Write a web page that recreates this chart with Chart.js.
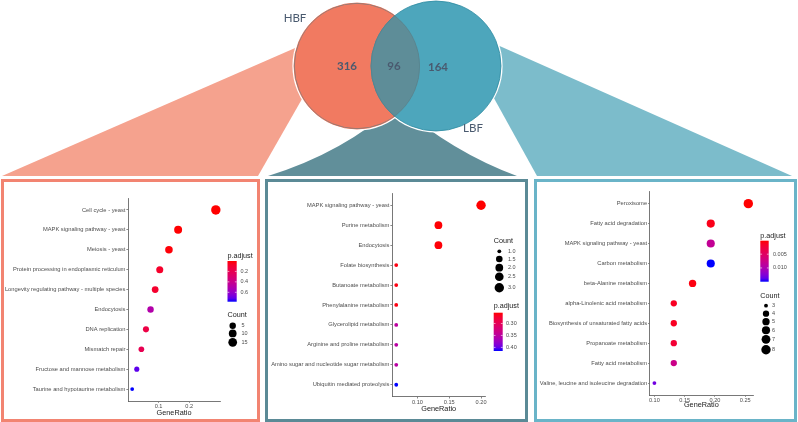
<!DOCTYPE html>
<html lang="en">
<head>
<meta charset="UTF-8">
<title>HBF / LBF enrichment</title>
<script src="https://cdn.jsdelivr.net/npm/chart.js"></script>
<style>
  html, body { margin: 0; padding: 0; background: #fff; }
  body { width: 798px; height: 422px; position: relative; overflow: hidden; }
  canvas { position: absolute; left: 0; top: 0; }
  .box { position: absolute; box-sizing: border-box; border: 3px solid; background: #fff; }
</style>
</head>
<body>
<canvas id="venn" width="798" height="422"></canvas>
<div class="box" style="left:1px;top:179px;width:259px;height:243px;border-color:#f28471"></div>
<div class="box" style="left:265px;top:179px;width:263px;height:243px;border-color:#5b8a96"></div>
<div class="box" style="left:534px;top:179px;width:263px;height:243px;border-color:#6ab4c8"></div>
<canvas id="chartHBF" width="798" height="422"></canvas>
<canvas id="chartShared" width="798" height="422"></canvas>
<canvas id="chartLBF" width="798" height="422"></canvas>

<script>
// ---- data ----
const vennNames = ['HBF', 'LBF'];
const vennCounts = [316, 96, 164];   // HBF only, shared, LBF only

const hbfTerms = ['Cell cycle - yeast', 'MAPK signaling pathway - yeast', 'Meiosis - yeast',
  'Protein processing in endoplasmic reticulum', 'Longevity regulating pathway - multiple species',
  'Endocytosis', 'DNA replication', 'Mismatch repair', 'Fructose and mannose metabolism',
  'Taurine and hypotaurine metabolism'];
const hbfRatio = [0.287, 0.164, 0.134, 0.104, 0.089, 0.074, 0.059, 0.044, 0.029, 0.014];
const hbfCount = [19, 11, 9, 7, 6, 5, 4, 3, 2, 1];
const hbfPadj = [0.0005, 0.002, 0.01, 0.08, 0.09, 0.5, 0.16, 0.2, 0.72, 0.78];
const hbfTicks = [0.1, 0.2];
const hbfPadjTicks = [0.2, 0.4, 0.6];
const hbfCountTicks = [5, 10, 15];

const sharedTerms = ['MAPK signaling pathway - yeast', 'Purine metabolism', 'Endocytosis',
  'Folate biosynthesis', 'Butanoate metabolism', 'Phenylalanine metabolism',
  'Glycerolipid metabolism', 'Arginine and proline metabolism',
  'Amino sugar and nucleotide sugar metabolism', 'Ubiquitin mediated proteolysis'];
const sharedRatio = [0.200, 0.133, 0.133, 0.0667, 0.0667, 0.0667, 0.0667, 0.0667, 0.0667, 0.0667];
const sharedCount = [3, 2, 2, 1, 1, 1, 1, 1, 1, 1];
const sharedPadj = [0.255, 0.256, 0.257, 0.26, 0.26, 0.26, 0.35, 0.352, 0.352, 0.415];
const sharedTicks = [0.10, 0.15, 0.20];
const sharedPadjTicks = [0.30, 0.35, 0.40];
const sharedCountTicks = [1.0, 1.5, 2.0, 2.5, 3.0];

const lbfTerms = ['Peroxisome', 'Fatty acid degradation', 'MAPK signaling pathway - yeast',
  'Carbon metabolism', 'beta-Alanine metabolism', 'alpha-Linolenic acid metabolism',
  'Biosynthesis of unsaturated fatty acids', 'Propanoate metabolism', 'Fatty acid metabolism',
  'Valine, leucine and isoleucine degradation'];
const lbfRatio = [0.255, 0.193, 0.193, 0.193, 0.163, 0.132, 0.132, 0.132, 0.132, 0.100];
const lbfCount = [8, 6, 6, 6, 5, 4, 4, 4, 4, 3];
const lbfPadj = [0.0001, 0.0008, 0.0083, 0.015, 0.0005, 0.0012, 0.0012, 0.0022, 0.0075, 0.0132];
const lbfTicks = [0.10, 0.15, 0.20, 0.25];
const lbfPadjTicks = [0.005, 0.010];
const lbfCountTicks = [3, 4, 5, 6, 7, 8];

// ---- helpers ----
const SANS = '"Liberation Sans", Arial, sans-serif';
Chart.defaults.font.family = SANS;
const R_MIN = 1.9, R_MAX = 4.7;

function hexToLab(hex) {
  const n = parseInt(hex.slice(1), 16);
  const c = [(n >> 16) & 255, (n >> 8) & 255, n & 255].map(v => {
    v /= 255;
    return v <= 0.04045 ? v / 12.92 : Math.pow((v + 0.055) / 1.055, 2.4);
  });
  const x = (c[0] * 0.4124 + c[1] * 0.3576 + c[2] * 0.1805) / 0.95047;
  const y = c[0] * 0.2126 + c[1] * 0.7152 + c[2] * 0.0722;
  const z = (c[0] * 0.0193 + c[1] * 0.1192 + c[2] * 0.9505) / 1.08883;
  const f = t => t > 0.008856 ? Math.cbrt(t) : 7.787 * t + 16 / 116;
  return [116 * f(y) - 16, 500 * (f(x) - f(y)), 200 * (f(y) - f(z))];
}
function labToRgb(L, a, b) {
  const fy = (L + 16) / 116, fx = fy + a / 500, fz = fy - b / 200;
  const inv = t => t * t * t > 0.008856 ? t * t * t : (t - 16 / 116) / 7.787;
  const x = inv(fx) * 0.95047, y = inv(fy), z = inv(fz) * 1.08883;
  const lin = [x * 3.2406 - y * 1.5372 - z * 0.4986,
               -x * 0.9689 + y * 1.8758 + z * 0.0415,
               x * 0.0557 - y * 0.2040 + z * 1.0570];
  const out = lin.map(v => {
    v = Math.min(1, Math.max(0, v));
    v = v <= 0.0031308 ? 12.92 * v : 1.055 * Math.pow(v, 1 / 2.4) - 0.055;
    return Math.round(v * 255);
  });
  return `rgb(${out[0]},${out[1]},${out[2]})`;
}
const LOW = hexToLab('#ff0000'), HIGH = hexToLab('#0000ff');
function ramp(t) {
  t = Math.min(1, Math.max(0, t));
  return labToRgb(LOW[0] + (HIGH[0] - LOW[0]) * t, LOW[1] + (HIGH[1] - LOW[1]) * t, LOW[2] + (HIGH[2] - LOW[2]) * t);
}
function radiusFor(c, lo, hi) {
  return R_MIN + (R_MAX - R_MIN) * Math.sqrt((c - lo) / (hi - lo));
}

// ---- venn ----
const vennLayout = {
  circles: [{ x: 357, y: 66, r: 63 }, { x: 436, y: 66, r: 65 }],
  fanLeft: [[2, 176], [310, 41.6], [306, 92], [258, 176]],
  fanRight: [[485, 39.4], [792, 176], [537, 176], [490, 91]],
  fanMid: { apex: [397, 104], left: [268, 176], right: [517, 176], ctrlL: [345, 152], ctrlR: [452, 152] },
  nameAt: [[295, 18], [473, 128]],
  countAt: [[347, 66], [394, 66], [438, 67]]
};

const vennPlugin = {
  id: 'vennDeco',
  beforeDatasetsDraw(chart) {
    const { ctx, scales: { x, y } } = chart;
    const px = p => [x.getPixelForValue(p[0]), y.getPixelForValue(p[1])];
    ctx.save();
    function poly(pts, color) {
      ctx.beginPath();
      pts.map(px).forEach((p, i) => i ? ctx.lineTo(p[0], p[1]) : ctx.moveTo(p[0], p[1]));
      ctx.closePath();
      ctx.fillStyle = color;
      ctx.fill();
    }
    poly(vennLayout.fanLeft, '#f5a28e');
    poly(vennLayout.fanRight, '#7cbccb');
    const m = vennLayout.fanMid;
    const a = px(m.apex), l = px(m.left), r = px(m.right), cl = px(m.ctrlL), cr = px(m.ctrlR);
    ctx.beginPath();
    ctx.moveTo(a[0], a[1]);
    ctx.quadraticCurveTo(cl[0], cl[1], l[0], l[1]);
    ctx.lineTo(r[0], r[1]);
    ctx.quadraticCurveTo(cr[0], cr[1], a[0], a[1]);
    ctx.closePath();
    ctx.fillStyle = '#618f9a';
    ctx.fill();
    // white halo round the circles
    chart.getDatasetMeta(0).data.forEach(el => {
      ctx.beginPath();
      ctx.arc(el.x, el.y, el.options.radius + 1.6, 0, Math.PI * 2);
      ctx.fillStyle = '#fff';
      ctx.fill();
    });
    ctx.restore();
  },
  afterDatasetsDraw(chart) {
    const { ctx, scales: { x, y } } = chart;
    const els = chart.getDatasetMeta(0).data;
    const [c1, c2] = els;
    ctx.save();
    ctx.beginPath();
    ctx.arc(c1.x, c1.y, c1.options.radius, 0, Math.PI * 2);
    ctx.clip();
    ctx.beginPath();
    ctx.arc(c2.x, c2.y, c2.options.radius, 0, Math.PI * 2);
    ctx.fillStyle = '#5e8d98';
    ctx.fill();
    ctx.lineWidth = 0.6;
    ctx.strokeStyle = '#557f89';
    ctx.stroke();
    ctx.beginPath();
    ctx.arc(c1.x, c1.y, c1.options.radius - 0.3, 0, Math.PI * 2);
    ctx.stroke();
    ctx.restore();

    ctx.save();
    ctx.fillStyle = '#4a5a6f';
    ctx.textAlign = 'center';
    ctx.textBaseline = 'middle';
    ctx.font = '11.5px Lato, "Open Sans", sans-serif';
    vennNames.forEach((n, i) => {
      const p = vennLayout.nameAt[i];
      ctx.fillText(n, x.getPixelForValue(p[0]), y.getPixelForValue(p[1]));
    });
    ctx.font = 'bold 11.5px Lato, "Open Sans", sans-serif';
    vennCounts.forEach((n, i) => {
      const p = vennLayout.countAt[i];
      ctx.fillText(String(n), x.getPixelForValue(p[0]), y.getPixelForValue(p[1]));
    });
    ctx.restore();
  }
};

new Chart(document.getElementById('venn'), {
  type: 'bubble',
  data: {
    datasets: [{
      data: vennLayout.circles,
      backgroundColor: ['#f17a61', '#4da6bc'],
      borderColor: ['#e0694f', '#2f8ba2'],
      borderWidth: 0.8,
      clip: false
    }]
  },
  options: {
    responsive: false,
    animation: false,
    events: [],
    layout: { padding: 0, autoPadding: false },
    plugins: { legend: { display: false }, tooltip: { enabled: false } },
    scales: {
      x: { type: 'linear', min: 0, max: 798, display: false },
      y: { type: 'linear', min: 0, max: 422, reverse: true, display: false }
    }
  },
  plugins: [vennPlugin]
});

// ---- dot plots ----
function legendPlugin(cfg) {
  return {
    id: 'ggLegend',
    afterDraw(chart) {
      const ctx = chart.ctx;
      const pLo = Math.min(...cfg.padj), pHi = Math.max(...cfg.padj);
      const cLo = Math.min(...cfg.count), cHi = Math.max(...cfg.count);
      ctx.save();
      // axis title
      ctx.fillStyle = '#1a1a1a';
      ctx.font = `7.3px ${SANS}`;
      ctx.textAlign = 'center';
      ctx.textBaseline = 'middle';
      const ca = chart.chartArea;
      ctx.fillText('GeneRatio', (ca.left + ca.right) / 2, cfg.titleY);

      const pl = cfg.padjLegend;
      ctx.textAlign = 'left';
      ctx.font = `7.2px ${SANS}`;
      ctx.fillText('p.adjust', pl.x, pl.titleY);
      const g = ctx.createLinearGradient(0, pl.top, 0, pl.bottom);
      for (let i = 0; i <= 12; i++) g.addColorStop(i / 12, ramp(i / 12));
      ctx.fillStyle = g;
      ctx.fillRect(pl.x, pl.top, pl.w, pl.bottom - pl.top);
      ctx.font = `5.5px ${SANS}`;
      cfg.padjTicks.forEach(v => {
        const yy = pl.top + (v - pLo) / (pHi - pLo) * (pl.bottom - pl.top);
        ctx.strokeStyle = '#fff';
        ctx.lineWidth = 0.6;
        ctx.beginPath();
        ctx.moveTo(pl.x, yy); ctx.lineTo(pl.x + 1.8, yy);
        ctx.moveTo(pl.x + pl.w - 1.8, yy); ctx.lineTo(pl.x + pl.w, yy);
        ctx.stroke();
        ctx.fillStyle = '#4d4d4d';
        ctx.fillText(v.toFixed(cfg.padjDigits), pl.labelX, yy);
      });

      const cl = cfg.countLegend;
      ctx.fillStyle = '#1a1a1a';
      ctx.font = `7.2px ${SANS}`;
      ctx.fillText('Count', cl.x, cl.titleY);
      ctx.font = `5.5px ${SANS}`;
      cfg.countTicks.forEach((v, i) => {
        const yy = cl.keyYs[i];
        ctx.fillStyle = '#000';
        ctx.beginPath();
        ctx.arc(cl.keyX, yy, radiusFor(v, cLo, cHi), 0, Math.PI * 2);
        ctx.fill();
        ctx.fillStyle = '#4d4d4d';
        ctx.fillText(v.toFixed(cfg.countDigits), cl.labelX, yy);
      });
      ctx.restore();
    }
  };
}

function makePanel(cfg) {
  const lo = Math.min(...cfg.ratio), hi = Math.max(...cfg.ratio);
  const pad = (hi - lo) * 0.05;
  const pLo = Math.min(...cfg.padj), pHi = Math.max(...cfg.padj);
  const cLo = Math.min(...cfg.count), cHi = Math.max(...cfg.count);
  const a = cfg.area;
  const n = cfg.terms.length;
  new Chart(document.getElementById(cfg.id), {
    type: 'bubble',
    data: {
      datasets: [{
        data: cfg.ratio.map((v, i) => ({ x: v, y: i, r: radiusFor(cfg.count[i], cLo, cHi) })),
        backgroundColor: cfg.padj.map(p => ramp((p - pLo) / (pHi - pLo))),
        borderWidth: 0,
        clip: false
      }]
    },
    options: {
      responsive: false,
      animation: false,
      events: [],
      layout: { padding: { left: 0, top: a.top, right: 798 - a.right, bottom: 0 }, autoPadding: false },
      plugins: { legend: { display: false }, tooltip: { enabled: false } },
      scales: {
        x: {
          type: 'linear',
          min: lo - pad,
          max: hi + pad,
          afterFit: s => { s.height = 422 - a.bottom; },
          afterBuildTicks: s => { s.ticks = cfg.xTicks.map(v => ({ value: v })); },
          ticks: {
            autoSkip: false, maxRotation: 0, padding: 0.5,
            color: '#4d4d4d', font: { size: 5.6 },
            callback: v => v.toFixed(cfg.xDigits)
          },
          grid: { drawOnChartArea: false, drawTicks: true, tickLength: 1.8, color: '#555', lineWidth: 0.7 },
          border: { display: true, color: '#555', width: 0.8 }
        },
        y: {
          type: 'linear',
          reverse: true,
          min: -0.6,
          max: n - 1 + 0.6,
          afterFit: s => { s.width = a.left; },
          afterBuildTicks: s => { s.ticks = cfg.terms.map((t, i) => ({ value: i })); },
          ticks: {
            autoSkip: false, padding: 1,
            color: '#4d4d4d', font: { size: 5.75 },
            callback: v => cfg.terms[v]
          },
          grid: { drawOnChartArea: false, drawTicks: true, tickLength: 1.6, color: '#555', lineWidth: 0.7 },
          border: { display: true, color: '#555', width: 0.8 }
        }
      }
    },
    plugins: [legendPlugin(cfg)]
  });
}

makePanel({
  id: 'chartHBF', terms: hbfTerms, ratio: hbfRatio, count: hbfCount, padj: hbfPadj,
  xTicks: hbfTicks, xDigits: 1, padjTicks: hbfPadjTicks, padjDigits: 1,
  countTicks: hbfCountTicks, countDigits: 0,
  area: { left: 128, right: 220, top: 198, bottom: 401 }, titleY: 413,
  padjLegend: { x: 227.5, titleY: 256.5, top: 261, bottom: 301.7, w: 9.2, labelX: 240.5 },
  countLegend: { x: 227.5, titleY: 315, keyX: 232.7, keyYs: [325.7, 333.4, 342.3], labelX: 241.5 }
});

makePanel({
  id: 'chartShared', terms: sharedTerms, ratio: sharedRatio, count: sharedCount, padj: sharedPadj,
  xTicks: sharedTicks, xDigits: 2, padjTicks: sharedPadjTicks, padjDigits: 2,
  countTicks: sharedCountTicks, countDigits: 1,
  area: { left: 392, right: 485.3, top: 193.3, bottom: 396.7 }, titleY: 409,
  padjLegend: { x: 493.7, titleY: 306.5, top: 312.7, bottom: 351, w: 9, labelX: 506 },
  countLegend: { x: 493.7, titleY: 241, keyX: 499.3, keyYs: [251.3, 259, 267.7, 276.7, 287.7], labelX: 508 }
});

makePanel({
  id: 'chartLBF', terms: lbfTerms, ratio: lbfRatio, count: lbfCount, padj: lbfPadj,
  xTicks: lbfTicks, xDigits: 2, padjTicks: lbfPadjTicks, padjDigits: 3,
  countTicks: lbfCountTicks, countDigits: 0,
  area: { left: 649.7, right: 753, top: 191.7, bottom: 395 }, titleY: 405,
  padjLegend: { x: 760.3, titleY: 235.7, top: 240.7, bottom: 281.7, w: 8.4, labelX: 773 },
  countLegend: { x: 760.3, titleY: 295.7, keyX: 766, keyYs: [305.7, 313.7, 321.7, 330.3, 339.3, 349.7], labelX: 772 }
});
</script>
</body>
</html>
